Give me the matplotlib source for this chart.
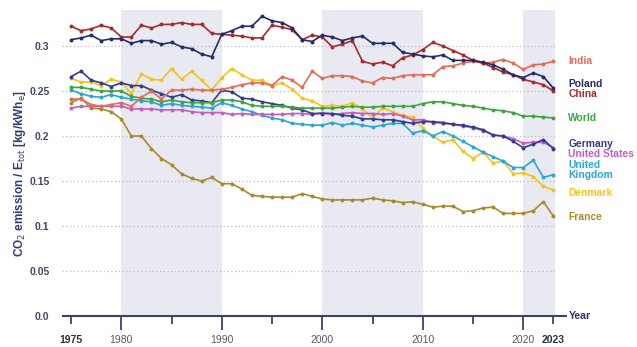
import numpy as np
import matplotlib
matplotlib.use("Agg")
import matplotlib.pyplot as plt

plt.rcParams['font.family'] = ['Liberation Sans', 'DejaVu Sans']

years = list(range(1975, 2024))

china = [0.322, 0.317, 0.319, 0.323, 0.320, 0.310, 0.310, 0.323, 0.320, 0.324,
         0.324, 0.326, 0.324, 0.324, 0.314, 0.313, 0.312, 0.311, 0.309, 0.309,
         0.323, 0.321, 0.318, 0.307, 0.312, 0.310, 0.299, 0.302, 0.306, 0.283,
         0.280, 0.282, 0.278, 0.287, 0.290, 0.296, 0.304, 0.300, 0.295, 0.290,
         0.284, 0.281, 0.276, 0.271, 0.268, 0.263, 0.260, 0.257, 0.250]
poland = [0.307, 0.309, 0.312, 0.306, 0.308, 0.308, 0.303, 0.306, 0.306, 0.302,
          0.304, 0.299, 0.297, 0.291, 0.288, 0.313, 0.317, 0.322, 0.322, 0.333,
          0.328, 0.326, 0.320, 0.307, 0.305, 0.312, 0.310, 0.306, 0.309, 0.311,
          0.303, 0.303, 0.303, 0.293, 0.291, 0.289, 0.288, 0.290, 0.284, 0.284,
          0.284, 0.282, 0.279, 0.274, 0.268, 0.265, 0.270, 0.266, 0.253]
india = [0.241, 0.241, 0.235, 0.233, 0.235, 0.237, 0.233, 0.243, 0.250, 0.241,
         0.251, 0.251, 0.252, 0.251, 0.251, 0.252, 0.254, 0.257, 0.259, 0.259,
         0.256, 0.266, 0.262, 0.254, 0.272, 0.264, 0.267, 0.267, 0.266, 0.261,
         0.259, 0.265, 0.264, 0.267, 0.268, 0.268, 0.268, 0.277, 0.278, 0.281,
         0.283, 0.281, 0.282, 0.285, 0.281, 0.274, 0.279, 0.280, 0.283]
world = [0.254, 0.254, 0.252, 0.250, 0.250, 0.250, 0.244, 0.242, 0.241, 0.238,
         0.240, 0.238, 0.237, 0.237, 0.237, 0.240, 0.240, 0.238, 0.234, 0.233,
         0.233, 0.233, 0.232, 0.231, 0.231, 0.231, 0.231, 0.232, 0.233, 0.232,
         0.232, 0.233, 0.233, 0.233, 0.233, 0.236, 0.238, 0.238, 0.236, 0.234,
         0.233, 0.231, 0.229, 0.228, 0.226, 0.222, 0.222, 0.221, 0.220]
germany = [0.266, 0.272, 0.262, 0.259, 0.255, 0.259, 0.256, 0.256, 0.251, 0.247,
           0.243, 0.246, 0.240, 0.239, 0.237, 0.251, 0.249, 0.242, 0.241, 0.238,
           0.236, 0.234, 0.231, 0.229, 0.225, 0.225, 0.225, 0.223, 0.222, 0.219,
           0.219, 0.218, 0.218, 0.216, 0.214, 0.216, 0.216, 0.215, 0.213, 0.212,
           0.210, 0.207, 0.201, 0.200, 0.194, 0.187, 0.191, 0.196, 0.186]
usa = [0.231, 0.233, 0.233, 0.233, 0.233, 0.233, 0.230, 0.230, 0.230, 0.229,
       0.229, 0.229, 0.227, 0.226, 0.226, 0.226, 0.224, 0.225, 0.224, 0.224,
       0.224, 0.224, 0.225, 0.225, 0.224, 0.226, 0.224, 0.225, 0.226, 0.225,
       0.225, 0.224, 0.225, 0.222, 0.218, 0.218, 0.215, 0.214, 0.213, 0.211,
       0.209, 0.206, 0.201, 0.200, 0.197, 0.192, 0.193, 0.193, 0.187]
uk = [0.251, 0.247, 0.244, 0.243, 0.246, 0.243, 0.241, 0.239, 0.238, 0.234,
      0.236, 0.234, 0.233, 0.232, 0.231, 0.237, 0.234, 0.230, 0.227, 0.223,
      0.220, 0.218, 0.214, 0.213, 0.212, 0.212, 0.215, 0.212, 0.214, 0.212,
      0.210, 0.212, 0.214, 0.214, 0.203, 0.206, 0.200, 0.205, 0.200, 0.194,
      0.188, 0.182, 0.177, 0.172, 0.165, 0.165, 0.173, 0.154, 0.157]
denmark = [0.264, 0.260, 0.260, 0.256, 0.263, 0.260, 0.247, 0.269, 0.263, 0.262,
           0.275, 0.263, 0.272, 0.262, 0.251, 0.265, 0.275, 0.268, 0.262, 0.262,
           0.256, 0.259, 0.252, 0.242, 0.239, 0.233, 0.234, 0.233, 0.237, 0.230,
           0.220, 0.231, 0.227, 0.223, 0.221, 0.209, 0.200, 0.193, 0.196, 0.183,
           0.175, 0.182, 0.170, 0.172, 0.158, 0.159, 0.155, 0.144, 0.140]
france = [0.237, 0.242, 0.231, 0.230, 0.227, 0.219, 0.200, 0.200, 0.186, 0.175,
          0.168, 0.158, 0.153, 0.150, 0.154, 0.147, 0.147, 0.141, 0.134, 0.133,
          0.132, 0.132, 0.132, 0.136, 0.133, 0.130, 0.129, 0.129, 0.129, 0.129,
          0.131, 0.129, 0.128, 0.126, 0.127, 0.124, 0.121, 0.122, 0.122, 0.116,
          0.117, 0.120, 0.121, 0.114, 0.114, 0.114, 0.117, 0.127, 0.111]

# (name, values, colour, label y-position in data units)
series = [
    ("France", france, "#a88a2c", 0.1105),
    ("Denmark", denmark, "#f2c41c", 0.1365),
    ("United\nKingdom", uk, "#2aa6d6", 0.1625),
    ("United States", usa, "#c35cc3", 0.1800),
    ("Germany", germany, "#2f3f8c", 0.1910),
    ("World", world, "#3fa43f", 0.2195),
    ("India", india, "#e36b59", 0.2835),
    ("China", china, "#a82a2a", 0.2465),
    ("Poland", poland, "#262c6a", 0.2575),
]

band_periods = [(1980, 1990), (2000, 2010), (2020, 2023.16)]
y_ticks = [0.0, 0.05, 0.1, 0.15, 0.2, 0.25, 0.3]
y_tick_labels = ["0.0", "0.05", "0.1", "0.15", "0.2", "0.25", "0.3"]

fig = plt.figure(figsize=(6.37, 3.47), dpi=100)
ax = fig.add_axes([62 / 637, 31 / 347, 493 / 637, 306 / 347])
ax.set_xlim(1974.1, 2023.16)
ax.set_ylim(0, 0.34)

for a, b in band_periods:
    ax.axvspan(a, b, color="#e9e9f1", zorder=0, lw=0)

for v in y_ticks[1:]:
    ax.axhline(v, color="#b9bbc6", lw=0.9, ls=(0, (1, 2)), zorder=1)

for name, vals, col, ly in series:
    ax.plot(years, vals, color=col, lw=1.2, marker="o", ms=1.8,
            zorder=3, solid_joinstyle="round")
    ax.text(1.027, ly, name, transform=ax.get_yaxis_transform(), color=col,
            fontsize=7.4, fontweight="bold", ha="left", va="center",
            linespacing=1.0)

for s in ["top", "right", "left", "bottom"]:
    ax.spines[s].set_visible(False)
# x axis line running a little past the last year, ending at the "Year" label
ax.plot([0, 1.025], [0, 0], transform=ax.transAxes, color="#3a4270",
        lw=1.5, clip_on=False, zorder=4, solid_capstyle="butt")
ax.text(1.028, 0, "Year", transform=ax.transAxes, color="#2d3366",
        fontsize=7.6, fontweight="bold", ha="left", va="center")

ax.set_yticks(y_ticks)
ax.set_yticklabels(y_tick_labels)
ax.tick_params(axis="y", length=0, pad=9, labelsize=7.5, labelcolor="#444a5e")
for t in ax.get_yticklabels():
    t.set_fontweight("bold")

ax.set_xticks([1980, 1990, 2000, 2010, 2020])
ax.set_xticklabels(["1980", "1990", "2000", "2010", "2020"])
ax.set_xticks([1975, 1985, 1995, 2005, 2015, 2023], minor=True)
ax.set_xticklabels(["1975", "", "", "", "", "2023"], minor=True)
ax.tick_params(axis="x", which="major", length=10, width=1.3, color="#3a4270",
               pad=4, labelsize=7.5, labelcolor="#55596a")
ax.tick_params(axis="x", which="minor", length=6, width=1.3, color="#3a4270",
               pad=8, labelsize=7.5, labelcolor="#2d3244")
for t in ax.get_xticklabels(minor=True):
    t.set_fontweight("bold")

fig.text(20 / 637, 0.5, r"CO$_2$ emission / E$_{\rm tot}$ [kg/kWh$_{\rm e}$]",
         rotation=90, ha="center", va="center", color="#2f3a78",
         fontsize=8.5, fontweight="bold")

fig.savefig("out.png", dpi=100)
